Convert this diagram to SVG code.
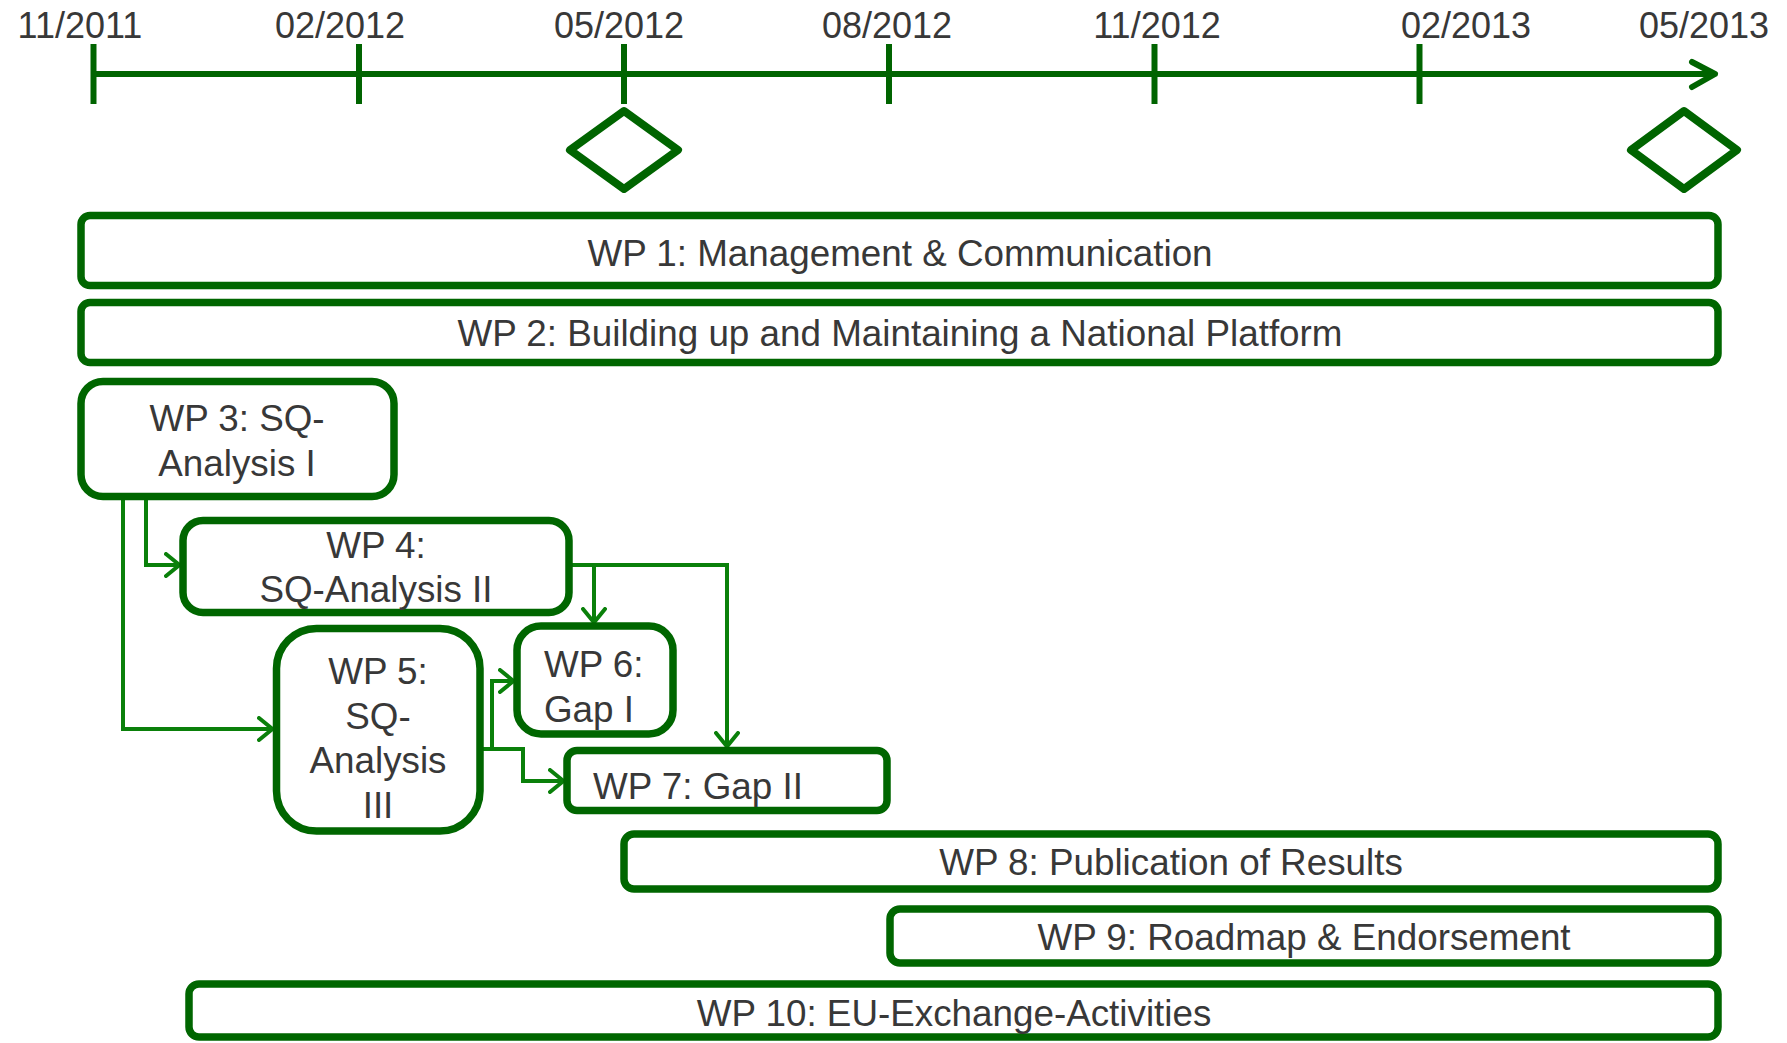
<svg xmlns="http://www.w3.org/2000/svg" width="1787" height="1043" viewBox="0 0 1787 1043">
  <defs>
    <style>
      .axis { stroke: #006400; stroke-width: 6; fill: none; }
      .tick { stroke: #006400; stroke-width: 6; }
      .ms { stroke: #006400; stroke-width: 8; fill: none; stroke-linejoin: round; }
      .box { fill: #ffffff; stroke: #006600; stroke-width: 7.5; }
      .conn { fill: none; stroke: #0a800a; stroke-width: 4; marker-end: url(#arrow); }
      .date { font-family: "Liberation Sans", Arial, sans-serif; font-size: 36px; fill: #383838; text-anchor: middle; }
      .lbl { font-family: "Liberation Sans", Arial, sans-serif; font-size: 36.8px; fill: #383838; text-anchor: middle; }
      .lbl.start { text-anchor: start; }
    </style>
    <marker id="arrow" markerUnits="userSpaceOnUse" viewBox="0 0 17 26" markerWidth="17" markerHeight="26" refX="16" refY="13" orient="auto">
      <path d="M2,2 L15.5,13 L2,24" fill="none" stroke="#0a800a" stroke-width="4" stroke-linecap="round" stroke-linejoin="round"/>
    </marker>
  </defs>

  <!-- time axis -->
  <g id="timeline">
    <line class="axis" x1="93" y1="74" x2="1714" y2="74"/>
    <polyline class="axis" points="1692,62 1715,74 1692,87" stroke-linecap="round" stroke-linejoin="round"/>
    <line class="tick" x1="93.5" y1="44" x2="93.5" y2="104"/>
    <line class="tick" x1="359" y1="44" x2="359" y2="104"/>
    <line class="tick" x1="624" y1="44" x2="624" y2="104"/>
    <line class="tick" x1="889" y1="44" x2="889" y2="104"/>
    <line class="tick" x1="1154.5" y1="44" x2="1154.5" y2="104"/>
    <line class="tick" x1="1419.5" y1="44" x2="1419.5" y2="104"/>
    <text class="date" x="80" y="38">11/2011</text>
    <text class="date" x="340" y="38">02/2012</text>
    <text class="date" x="619" y="38">05/2012</text>
    <text class="date" x="887" y="38">08/2012</text>
    <text class="date" x="1157" y="38">11/2012</text>
    <text class="date" x="1466" y="38">02/2013</text>
    <text class="date" x="1704" y="38">05/2013</text>
  </g>

  <!-- milestones -->
  <g id="milestone-1">
    <polygon class="ms" points="624,111 678,150 624,189 570,150"/>
  </g>
  <g id="milestone-2">
    <polygon class="ms" points="1684,111 1737,150 1684,189 1631,150"/>
  </g>

  <!-- dependency connectors -->
  <g id="connectors">
    <path class="conn" d="M146,499 V565 H180"/>
    <path class="conn" d="M123,499 V729 H273"/>
    <path class="conn" d="M572,565 H727 V747"/>
    <path class="conn" d="M594,565 V623"/>
    <path class="conn" d="M483,749 H492 V681 H514"/>
    <path class="conn" d="M492,749 H523 V781 H564"/>
  </g>

  <!-- work packages -->
  <g id="wp1">
    <rect class="box" x="81" y="215.5" width="1637" height="70" rx="9"/>
    <text class="lbl" x="900" y="266">WP 1: Management &amp; Communication</text>
  </g>
  <g id="wp2">
    <rect class="box" x="81" y="302.5" width="1637" height="60" rx="9"/>
    <text class="lbl" x="900" y="346">WP 2: Building up and Maintaining a National Platform</text>
  </g>
  <g id="wp3">
    <rect class="box" x="81" y="381.5" width="313" height="115" rx="22"/>
    <text class="lbl" x="237" y="431">WP 3: SQ-</text>
    <text class="lbl" x="237" y="476">Analysis I</text>
  </g>
  <g id="wp4">
    <rect class="box" x="183" y="520.5" width="386" height="92" rx="20"/>
    <text class="lbl" x="376" y="558">WP 4:</text>
    <text class="lbl" x="376" y="602">SQ-Analysis II</text>
  </g>
  <g id="wp5">
    <rect class="box" x="276.5" y="628.5" width="203.5" height="202.5" rx="40"/>
    <text class="lbl" x="378" y="684">WP 5:</text>
    <text class="lbl" x="378" y="729">SQ-</text>
    <text class="lbl" x="378" y="773">Analysis</text>
    <text class="lbl" x="378" y="818">III</text>
  </g>
  <g id="wp6">
    <rect class="box" x="517" y="626" width="156" height="108" rx="24"/>
    <text class="lbl start" x="544" y="677">WP 6:</text>
    <text class="lbl start" x="544" y="722">Gap I</text>
  </g>
  <g id="wp7">
    <rect class="box" x="567" y="750.5" width="320" height="60" rx="10"/>
    <text class="lbl start" x="593" y="799">WP 7: Gap II</text>
  </g>
  <g id="wp8">
    <rect class="box" x="624" y="834" width="1094" height="55" rx="10"/>
    <text class="lbl" x="1171" y="875">WP 8: Publication of Results</text>
  </g>
  <g id="wp9">
    <rect class="box" x="890" y="909" width="828" height="54" rx="10"/>
    <text class="lbl" x="1304" y="950">WP 9: Roadmap &amp; Endorsement</text>
  </g>
  <g id="wp10">
    <rect class="box" x="189" y="984" width="1529" height="53" rx="10"/>
    <text class="lbl" x="954" y="1026">WP 10: EU-Exchange-Activities</text>
  </g>
</svg>
